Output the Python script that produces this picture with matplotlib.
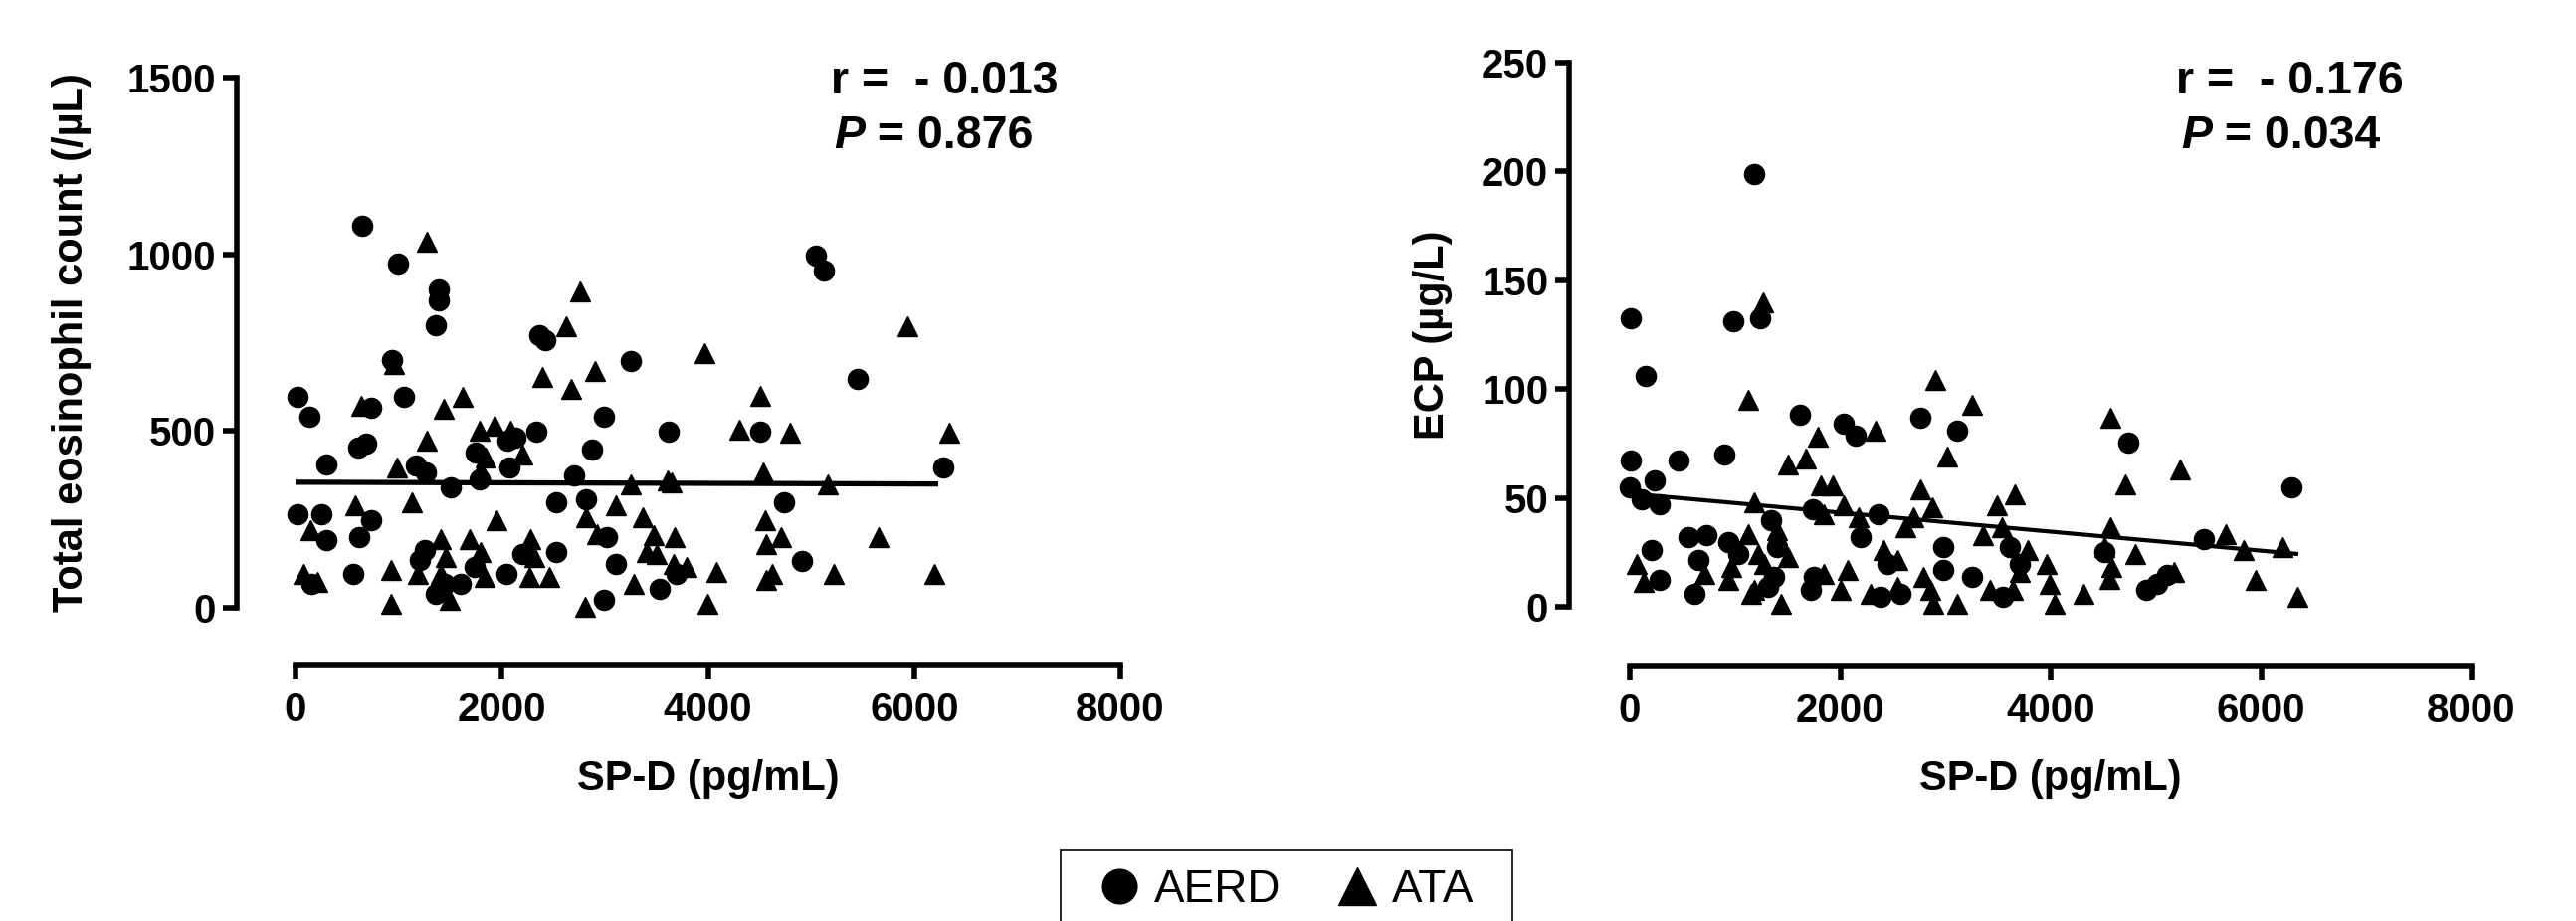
# Scatter plots of SP-D vs eosinophil count and ECP (AERD vs ATA)
import matplotlib
matplotlib.use('Agg')
import matplotlib.pyplot as plt
from matplotlib.lines import Line2D
from matplotlib.patches import Rectangle

plt.rcParams['font.family'] = ['Liberation Sans', 'DejaVu Sans']
plt.rcParams['font.weight'] = 'bold'
plt.rcParams['axes.labelweight'] = 'bold'

# ---- left panel: total eosinophil count (/uL) ----
eos_aerd_x = [650, 990, 1390, 1390, 1361, 940, 2361, 2426, 3252, 16, 135, 736, 1049, 2989,
              2336, 3619, 2876, 608, 688, 302, 1171, 1268, 2056, 2136, 1750, 2078, 1789,
              2703, 1503, 16, 248, 736, 302, 618, 2532, 2818, 3021, 1252, 1203, 1364, 1445,
              560, 157, 1734, 1605, 2046, 2201, 2532, 3108, 3697, 3535, 2989,
              5048, 5129, 5454, 4508, 6287, 4742, 4910]
eos_aerd_y = [1080, 975, 900, 870, 798, 700, 772, 758, 699, 598, 539, 566, 598, 539,
              497, 497, 447, 453, 464, 406, 402, 383, 472, 481, 439, 397, 364,
              373, 341, 265, 265, 247, 190, 200, 298, 308, 200, 162, 134, 40, 68,
              97, 68, 115, 68, 97, 153, 158, 125, 97, 54, 22,
              997, 955, 648, 497, 397, 298, 132]

eos_ata_x = [960, 1275, 2757, 2622, 3963, 2390, 2902, 2673, 640, 1621, 1438, 1274, 985,
             1789, 1928, 2088, 1847, 2201, 1798, 3252, 3605, 3650, 576, 142, 1132, 1950,
             2818, 3108, 3366, 2925, 3472, 3681, 1412, 1190, 1460, 1412, 1493, 929, 929,
             77, 215, 1686, 1798, 1830, 2281, 2314, 2266, 2458, 3407, 3504, 3665, 3793,
             4083, 3279, 2812, 3993,
             5936, 4508, 4302, 4797, 6342, 4534, 5164, 4559, 4710, 4566, 5653, 4624,
             4566, 5219, 6197]
eos_ata_y = [690, 1035, 894, 796, 720, 653, 671, 620, 570, 596, 563, 472, 397,
             500, 514, 500, 425, 434, 387, 348, 359, 355, 289, 219, 298, 247,
             256, 289, 256, 209, 205, 200, 195, 97, 144, 97, 22, 106, 12,
             97, 73, 195, 158, 87, 195, 144, 87, 87, 158, 153, 125, 115,
             101, 68, 3, 12,
             797, 599, 505, 495, 495, 383, 348, 247, 200, 181, 200, 97,
             78, 97, 97]

eos_fit_x = [0, 6234]
eos_fit_y = [355, 350]

# ---- right panel: ECP (ug/L) ----
ecp_aerd_x = [1185, 9, 986, 1242, 151, 1614, 2036, 2147, 2761, 3108, 9, 466, 901, 3, 113,
              240, 287, 1737, 2367, 1343, 1403, 1375, 1313, 555, 728, 933, 1028, 650, 618,
              208, 287, 1752, 1721, 2194, 2446, 2383, 2572, 2982, 2982, 3250, 3549, 3612,
              3707, 4741, 6291, 5456, 4511, 4905, 5015, 5109]
ecp_aerd_y = [199, 132.5, 131, 132.5, 106, 88, 84, 78.5, 87, 81, 67, 67, 70, 55, 49.5,
              58, 47, 45, 42.6, 39.6, 27.4, 13.7, 9.1, 32, 32.8, 29.7, 24.4, 21.3, 6.1,
              25.9, 12.2, 13.7, 7.6, 32, 19.8, 4.6, 6.1, 27.4, 16.8, 13.7, 4.6, 27.4,
              19.8, 75.4, 54.8, 31.2, 25.1, 7.6, 10.7, 14.5]

ecp_ata_x = [1264, 1125, 1790, 2336, 2903, 3250, 3014, 1500, 1674, 1185, 1816, 1926, 2761,
             2872, 3660, 3486, 1847, 2036, 2178, 2698, 2619, 3534, 3360, 1281, 1500, 1438,
             1185, 1220, 1403, 1122, 965, 933, 712, 66, 130, 1154, 1847, 2068, 2005, 2414,
             2541, 2288, 2541, 2793, 2856, 2887, 3108, 3423, 3644, 3786, 3707, 3959, 3990,
             4038, 4564, 5229, 4709, 4564, 5661, 5834, 6206, 4511, 4574, 4558, 4801, 5173,
             4315, 5951, 6348]
ecp_ata_y = [140, 95, 78, 81, 104, 93, 69, 65.5, 68, 48, 55.6, 55.6, 54,
             45.7, 51.8, 46.5, 42.6, 46.5, 41, 41, 36.6, 36.6, 32.8, 19.8, 22.9, 1.5,
             7.6, 24.4, 35, 33.5, 18.3, 12.2, 15.2, 19.8, 11.4, 6.1, 15.2, 16.8, 7.6, 25.9,
             21.3, 6.1, 9.1, 13.7, 7.6, 1.5, 1.5, 7.6, 7.6, 25.9, 16, 19.8, 10.7,
             1.5, 86.8, 63.2, 56.4, 36.6, 33.5, 25.9, 27.4, 27.4, 18.3, 12.9, 24.4, 16,
             6.1, 12.2, 4.6]

ecp_fit_x = [0, 6355]
ecp_fit_y = [52.0, 24.2]

W, H = 2589, 926
fig = plt.figure(figsize=(W / 100, H / 100), dpi=100)

ax1 = fig.add_axes([297 / W, 1 - 611 / H, 829 / W, 533 / H])
ax2 = fig.add_axes([1638 / W, 1 - 610 / H, 846 / W, 547 / H])


def style_axes(ax, left_off, bottom_off):
    for side in ['top', 'right']:
        ax.spines[side].set_visible(False)
    ax.spines['left'].set_position(('outward', left_off))
    ax.spines['bottom'].set_position(('outward', bottom_off))
    for side in ['left', 'bottom']:
        ax.spines[side].set_linewidth(4)
    ax.tick_params(width=4, length=10, labelsize=29)
    ax.tick_params(axis='x', pad=9)
    ax.tick_params(axis='y', pad=5)
    ax.set_xlim(0, 8000)
    ax.set_xticks([0, 2000, 4000, 6000, 8000])


# Left panel
ax1.plot(eos_aerd_x, eos_aerd_y, 'o', ms=14.5, color='black', clip_on=False)
ax1.plot(eos_ata_x, eos_ata_y, '^', ms=14.5, color='black', clip_on=False)
ax1.plot(eos_fit_x, eos_fit_y, color='black', lw=3.8, solid_capstyle='butt', zorder=3)
style_axes(ax1, 42.5, 41.8)
ax1.set_ylim(0, 1500)
ax1.set_yticks([0, 500, 1000, 1500])
ax1.set_xlabel('SP-D (pg/mL)', fontsize=30)
ax1.set_ylabel('Total eosinophil count (/\u00b5L)', fontsize=30)
ax1.xaxis.set_label_coords(0.5, (611 - 783) / 533)
ax1.xaxis.label.set_va('center')
ax1.yaxis.set_label_coords((72 - 297) / 829, 0.5)
ax1.yaxis.label.set_va('center')

# Right panel
ax2.plot(ecp_aerd_x, ecp_aerd_y, 'o', ms=14.5, color='black', clip_on=False)
ax2.plot(ecp_ata_x, ecp_ata_y, '^', ms=14.5, color='black', clip_on=False)
ax2.plot(ecp_fit_x, ecp_fit_y, color='black', lw=3, solid_capstyle='butt', zorder=3)
style_axes(ax2, 43.9, 43.2)
ax2.set_ylim(0, 250)
ax2.set_yticks([0, 50, 100, 150, 200, 250])
ax2.set_xlabel('SP-D (pg/mL)', fontsize=30)
ax2.set_ylabel('ECP (\u00b5g/L)', fontsize=30)
ax2.xaxis.set_label_coords(0.5, (610 - 783) / 547)
ax2.xaxis.label.set_va('center')
ax2.yaxis.set_label_coords((1440 - 1638) / 846, 0.5)
ax2.yaxis.label.set_va('center')

# Correlation text
fig.text(835 / W, 1 - 82 / H, 'r =  - 0.013', fontsize=33.5, va='center')
p1 = fig.text(838 / W, 1 - 137 / H, 'P', fontsize=33.5, style='italic', va='center')
ax1.annotate(' = 0.876', xy=(1, 0), xycoords=p1, va='bottom', ha='left', fontsize=33.5)

fig.text(2187 / W, 1 - 82 / H, 'r =  - 0.176', fontsize=33.5, va='center')
p2 = fig.text(2192 / W, 1 - 137 / H, 'P', fontsize=33.5, style='italic', va='center')
ax2.annotate(' = 0.034', xy=(1, 0), xycoords=p2, va='bottom', ha='left', fontsize=33.5)

# Legend (box runs off the bottom edge like the original)
handles = [Line2D([], [], marker='o', ls='none', color='black', ms=25),
           Line2D([], [], marker='^', ls='none', color='black', ms=27)]
fig.legend(handles, ['AERD', 'ATA'], loc='center', bbox_to_anchor=(1294 / W, 1 - 895 / H),
           ncol=2, frameon=False, handlelength=0.8, handletextpad=0.37,
           columnspacing=1.27, borderpad=0, prop={'size': 33, 'weight': 'normal'})
fig.add_artist(Rectangle((1066 / W, -0.05), 454 / W, 71 / H + 0.05, transform=fig.transFigure,
                         fill=False, edgecolor='black', lw=1.2))

fig.savefig('out.png', dpi=100)
